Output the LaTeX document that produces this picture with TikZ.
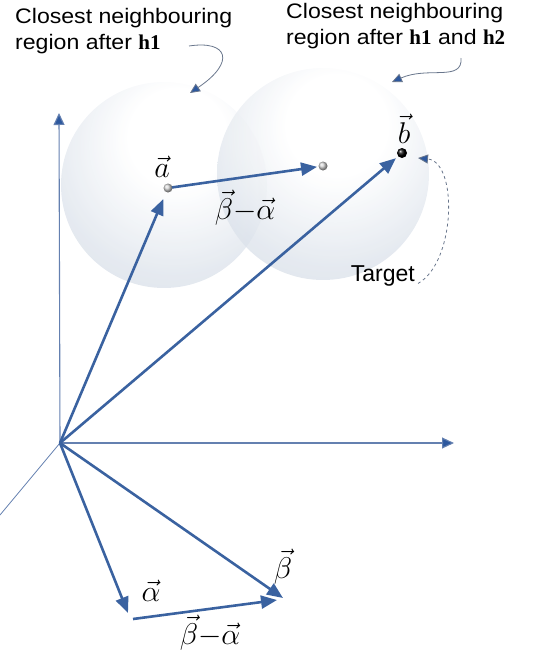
\RequirePackage{fix-cm}
\documentclass[tikz,border=0pt]{standalone}
\usepackage{fontspec}
\setmainfont{Liberation Sans}
\newfontfamily\tnr{Liberation Serif}
\usetikzlibrary{arrows.meta,positioning}
\definecolor{vecblue}{RGB}{58,98,160}
\definecolor{axisblue}{RGB}{100,128,176}
\definecolor{tipblue}{RGB}{45,88,158}
\definecolor{callgray}{RGB}{105,118,140}
\definecolor{orbmid}{RGB}{222,228,236}
\definecolor{orbedge}{RGB}{204,211,223}
\definecolor{orbrim}{RGB}{230,234,240}
\pgfdeclareradialshading{orb}{\pgfpoint{4bp}{14bp}}{%
  color(0bp)=(white); color(12bp)=(white); color(30bp)=(orbmid);
  color(50bp)=(orbedge); color(58bp)=(orbrim); color(68bp)=(orbrim)}

\begin{document}
\begin{tikzpicture}[
  x=1pt, y=-1pt,
  axis/.style={
    draw=axisblue,
    line width=1.1pt,
    -{Triangle[length=12pt,width=11pt,fill=tipblue]}
  },
  vec/.style={
    draw=vecblue,
    line width=2.6pt,
    -{Triangle[length=16pt,width=13pt]}
  },
  region/.style={
    circle,
    shading=orb,
    fill opacity=0.8,
    minimum size=#1,
    inner sep=0pt
  },
  dot/.style={
    circle,
    shading=ball,
    minimum size=#1,
    inner sep=0pt
  },
  lbl/.style={
    inner sep=1pt,
    font=\fontsize{30}{34}\selectfont
  },
  note/.style={
    align=left,
    inner sep=0pt,
    font=\fontsize{21}{26}\selectfont\addfontfeature{FakeStretch=1.1}
  },
  callout/.style={
    draw=callgray,
    line width=0.8pt,
    -{Triangle[length=10pt,width=9pt,fill=tipblue]}
  }
]
\useasboundingbox (0,0) rectangle (544,654);

% Neighbouring regions
\node[region=206pt] (reg1) at (164,185) {};
\node[region=212pt] (reg2) at (323,174) {};

% Axes
\coordinate (O) at (60,443);
\coordinate (ytip) at (59,113);
\coordinate (xtip) at (454,443);
\coordinate (zend) at (0,515);
\draw[axis] (O) -- (ytip);
\draw[axis] (O) -- (xtip);
\draw[draw=axisblue, line width=0.8pt] (O) -- (zend);

% Points
\node[dot=9pt, ball color=gray!35] (pa) at (168,188) {};
\node[dot=9pt, ball color=gray!35] (pm) at (323,166) {};
\node[dot=10pt, ball color=black] (pb) at (402,153) {};

% Vectors in the upper part
\draw[vec, shorten >=12pt] (O) -- (pa.center);
\draw[vec, shorten >=8pt] (O) -- (pb.center);
\draw[vec, shorten <=4pt, shorten >=6pt] (pa.center) -- (pm.center);

\node[lbl] (la) at (162,167) {$\vec{a}$};
\node[lbl] (lb) at (404,129) {$\vec{b}$};
\node[lbl] (lba) at (245,208) {$\vec{\beta}{-}\vec{\alpha}$};

% Vectors in the lower part
\coordinate (al) at (128,613);
\coordinate (be) at (283,598);
\coordinate (al0) at (133,619);
\coordinate (be0) at (277,600);
\draw[vec] (O) -- (al);
\draw[vec] (O) -- (be);
\draw[vec] (al0) -- (be0);

\node[lbl] (lal) at (151,591) {$\vec{\alpha}$};
\node[lbl] (lbe) at (283,567) {$\vec{\beta}$};
\node[lbl] (lba2) at (210,633) {$\vec{\beta}{-}\vec{\alpha}$};

% Notes
\node[note, anchor=north west] (t1) at (15,8)
  {Closest neighbouring\\region after {\tnr\bfseries h1}};
\node[note, anchor=north west] (t2) at (286,3)
  {Closest neighbouring\\region after {\tnr\bfseries h1} and {\tnr\bfseries h2}};
\node[note, anchor=base east, font=\fontsize{23}{26}\selectfont] (tg) at (415,281) {Target};

\coordinate (c1) at (189,46);
\coordinate (e1) at (190,93);
\coordinate (c2) at (461,58);
\coordinate (e2) at (392,82);
\coordinate (e3) at (418,158);
\draw[callout] (c1) .. controls (228,40) and (236,62) .. (e1);
\draw[callout] (c2) .. controls (463,82) and (428,66) .. (e2);
\draw[callout, dashed] ([xshift=3pt,yshift=-8pt]tg.east) .. controls (456,262) and (458,162) .. (e3);

\end{tikzpicture}
\end{document}
